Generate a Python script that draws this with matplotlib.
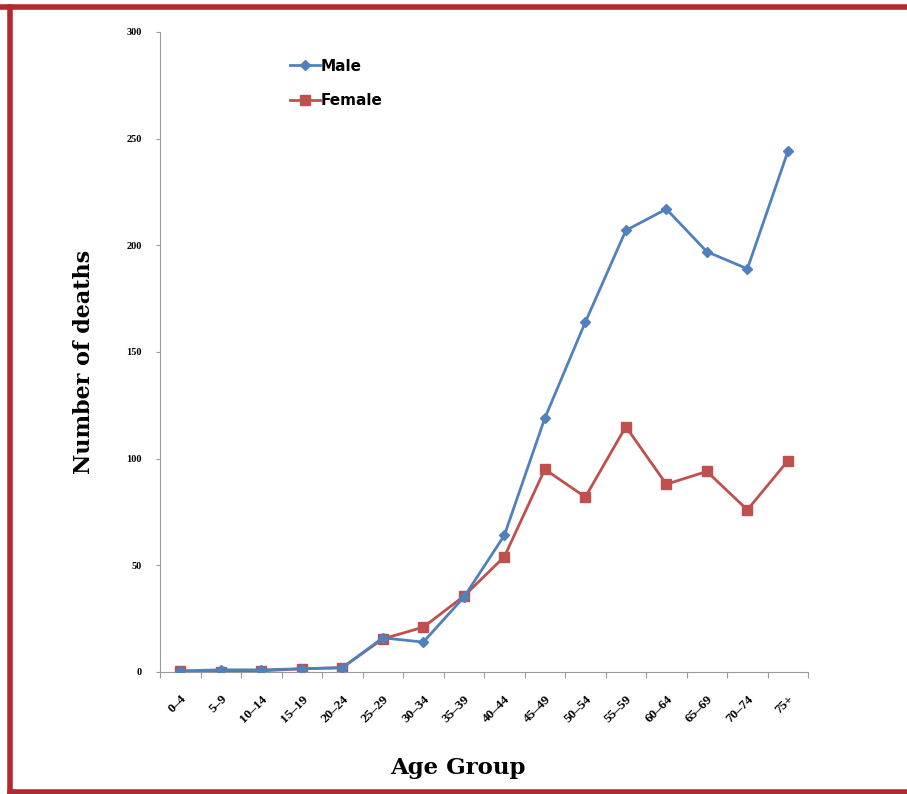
import matplotlib
matplotlib.use("Agg")
import matplotlib.pyplot as plt
import numpy as np

age_groups = ["0\u20134", "5\u20139", "10\u201314", "15\u201319", "20\u201324", "25\u201329",
              "30\u201334", "35\u201339", "40\u201344", "45\u201349", "50\u201354", "55\u201359",
              "60\u201364", "65\u201369", "70\u201374", "75+"]
male = [0.5, 1, 1, 1.5, 2, 16, 14, 35, 64, 119, 164, 207, 217, 197, 189, 244]
female = [0.5, 0, 0.5, 1.5, 2, 15.5, 21, 35.5, 54, 95, 82, 115, 88, 94, 76, 99]
y_ticks = [0, 50, 100, 150, 200, 250, 300]

blue = "#4F81BD"
red = "#C0504D"
border = "#B22A30"
axis_grey = "#9A9A9A"

fig = plt.figure(figsize=(9.07, 7.94), dpi=100)
ax = fig.add_axes([0.1764, 0.1537, 0.7146, 0.806])

x = np.arange(len(age_groups))
ax.plot(x, male, color=blue, lw=2, marker="D", ms=5, mfc=blue, mec=blue, label="Male", zorder=3)
ax.plot(x, female, color=red, lw=2, marker="s", ms=7.5, mfc=red, mec=red, label="Female", zorder=2)

ax.set_xlim(-0.5, len(age_groups) - 0.5)
ax.set_ylim(0, 300)
ax.set_yticks(y_ticks)
ax.set_yticklabels([str(t) for t in y_ticks], fontsize=7.5, fontweight="bold",
                   family="Liberation Serif")
ax.tick_params(axis="y", length=3, color=axis_grey, pad=10)

# Excel-like ticks between categories
ax.set_xticks(np.arange(-0.5, len(age_groups)), minor=False)
ax.set_xticklabels([])
ax.tick_params(axis="x", which="major", length=4, color=axis_grey, direction="out")
ax.set_xticks(x, minor=True)
ax.set_xticklabels(age_groups, minor=True, rotation=45, ha="right", va="top",
                   rotation_mode="anchor", fontsize=9.5, fontweight="bold",
                   family="Liberation Serif")
ax.tick_params(axis="x", which="minor", length=0, pad=15)

for s in ["top", "right"]:
    ax.spines[s].set_visible(False)
ax.spines["left"].set_color(axis_grey)
ax.spines["bottom"].set_color(axis_grey)

ax.set_ylabel("Number of deaths", fontsize=16, fontweight="bold", family="DejaVu Serif")
ax.yaxis.set_label_coords(-0.100, 0.484)
ax.set_xlabel("Age Group", fontsize=16.5, fontweight="bold", family="DejaVu Serif")
ax.xaxis.set_label_coords(0.46, -0.133)

ax.legend(loc="upper left", bbox_to_anchor=(0.179, 0.98), frameon=False,
          prop={"weight": "bold", "size": 11}, handlelength=2.0,
          handletextpad=0.05, labelspacing=1.3)

# dark red frame (top, left, bottom)
fig.add_artist(plt.Line2D([0, 1], [1 - 6.5 / 794] * 2, color=border, lw=4))
fig.add_artist(plt.Line2D([9.5 / 907] * 2, [1 - 6.5 / 794, 2.5 / 794], color=border, lw=4))
fig.add_artist(plt.Line2D([9.5 / 907, 1], [2.5 / 794] * 2, color=border, lw=4))

fig.savefig("out.png", dpi=100)
